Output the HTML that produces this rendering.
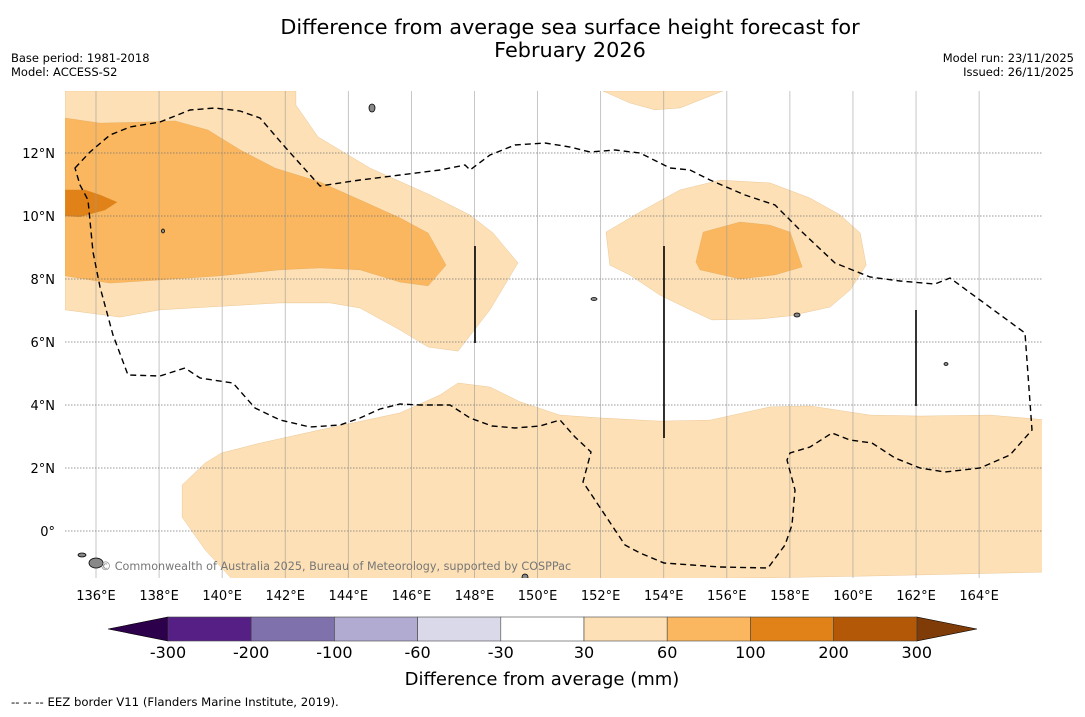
<!DOCTYPE html>
<html><head><meta charset="utf-8"><style>
body{margin:0;background:#fff;width:1085px;height:713px;overflow:hidden;font-family:"DejaVu Sans","Liberation Sans",sans-serif}
</style></head><body>
<svg id="svg" width="1085" height="713" viewBox="0 0 1085 713" xmlns="http://www.w3.org/2000/svg" font-family="DejaVu Sans, Liberation Sans, sans-serif">
<text x="570" y="34" font-size="20.8" text-anchor="middle">Difference from average sea surface height forecast for</text>
<text x="570" y="57" font-size="20.8" text-anchor="middle">February 2026</text>
<text x="11" y="62" font-size="11.5">Base period: 1981-2018</text>
<text x="11" y="76" font-size="11.5">Model: ACCESS-S2</text>
<text x="1074" y="62" font-size="11.5" text-anchor="end">Model run: 23/11/2025</text>
<text x="1074" y="76" font-size="11.5" text-anchor="end">Issued: 26/11/2025</text>
<defs><clipPath id="mapclip"><rect x="65" y="91" width="977" height="487"/></clipPath></defs>
<g id="map" clip-path="url(#mapclip)"></g>
<g id="axes"></g>
<g id="cbar"></g>
<text x="542" y="685" font-size="18" text-anchor="middle">Difference from average (mm)</text>
<text x="11" y="706" font-size="11.7">--  --  -- EEZ border V11 (Flanders Marine Institute, 2019).</text>
</svg>
<script>
const lonTicks=[136,138,140,142,144,146,148,150,152,154,156,158,160,162,164];
const latTicks=[0,2,4,6,8,10,12];
const levelColors=['#551f86','#7f71ab','#b1abd1','#d9d9ea','#ffffff','#fde0b5','#fab75f','#e08217','#b35806'];
const levelLabels=['-300','-200','-100','-60','-30','30','60','100','200','300'];
const lightTopLeft=[[135.02,13.97],[142.34,13.97],[142.34,13.52],[143.04,12.51],[144.69,11.52],[146.59,10.67],[147.86,10.03],[148.59,9.46],[149.38,8.51],[148.49,7.02],[147.48,5.71],[146.53,5.84],[145.64,6.38],[144.37,7.08],[143.42,7.24],[141.83,7.24],[138.03,7.02],[136.76,6.79],[135.02,7.02]];
const mediumTopLeft=[[135.02,13.11],[136.13,12.95],[137.40,12.98],[138.50,13.02],[139.55,12.73],[140.57,12.10],[141.68,11.52],[143.10,11.08],[144.37,10.51],[145.64,9.94],[146.53,9.46],[147.10,8.44],[146.53,7.78],[145.64,7.90],[144.37,8.29],[143.10,8.35],[141.83,8.29],[139.93,8.10],[138.03,7.97],[136.44,7.87],[135.02,8.10]];
const darkTopLeft=[[135.02,10.83],[135.65,10.83],[136.13,10.67],[136.67,10.44],[136.29,10.19],[135.49,9.97],[135.02,10.00]];
const lightTopMid=[[152.07,13.97],[155.88,13.97],[155.15,13.68],[154.52,13.43],[153.72,13.37],[152.92,13.59]];
const lightRight=[[152.17,9.49],[153.25,10.13],[154.52,10.83],[155.79,11.14],[157.37,11.05],[158.64,10.57],[159.60,10.03],[160.23,9.46],[160.42,8.44],[159.91,7.65],[159.28,7.11],[158.01,6.83],[157.06,6.73],[155.53,6.70],[154.84,7.02],[153.88,7.49],[152.92,8.13],[152.29,8.44]];
const mediumRight=[[155.25,9.49],[156.42,9.81],[157.37,9.71],[158.01,9.49],[158.39,8.38],[157.53,8.13],[156.42,8.00],[155.15,8.29],[155.02,8.54]];
const lightBottom=[[138.73,1.46],[139.46,2.16],[139.99,2.48],[141.20,2.79],[143.10,3.21],[145.64,3.75],[146.91,4.32],[147.48,4.70],[148.49,4.57],[149.45,4.10],[150.71,3.68],[151.98,3.59],[153.88,3.49],[155.47,3.52],[157.37,3.94],[158.64,3.97],[160.55,3.68],[162.13,3.65],[164.35,3.68],[166.2,3.52],[166.2,-1.30],[164.98,-1.33],[160.54,-1.43],[157.05,-1.49],[140.38,-1.6],[139.46,-0.60],[138.73,0.44]];
const NS='http://www.w3.org/2000/svg';
const xs=lon=>96+(lon-136)*31.54;
const ys=lat=>531-lat*31.5;
function mk(tag,attrs,parent){const e=document.createElementNS(NS,tag);for(const k in attrs)e.setAttribute(k,attrs[k]);parent.appendChild(e);return e;}
const map=document.getElementById('map'),axes=document.getElementById('axes'),cbar=document.getElementById('cbar');
function poly(pts,fill,name){const p=mk('polygon',{points:pts.map(q=>xs(q[0])+','+ys(q[1])).join(' '),fill:fill,stroke:'#d09040','stroke-width':0.4,'stroke-opacity':0.5},map);

}
poly(lightTopLeft,levelColors[5],'contour-30-60-northwest');
poly(mediumTopLeft,levelColors[6],'contour-60-100-northwest');
poly(darkTopLeft,levelColors[7],'contour-100-200-northwest');
poly(lightTopMid,levelColors[5],'contour-30-60-north');
poly(lightRight,levelColors[5],'contour-30-60-east');
poly(mediumRight,levelColors[6],'contour-60-100-east');
poly(lightBottom,levelColors[5],'contour-30-60-south');
lonTicks.forEach(l=>{const g=mk('line',{x1:xs(l),x2:xs(l),y1:91,y2:578,stroke:'#999','stroke-width':0.8,'stroke-opacity':0.7},map);


const t=mk('text',{x:xs(l),y:600,'font-size':13,'text-anchor':'middle'},axes);t.textContent=l+'°E';

});
latTicks.forEach(l=>{const g=mk('line',{x1:65,x2:1042,y1:ys(l),y2:ys(l),stroke:'#777','stroke-width':0.8,'stroke-dasharray':'1.5,1.5'},map);


const t=mk('text',{x:55,y:ys(l)+5,'font-size':13,'text-anchor':'end'},axes);t.textContent=l===0?'0°':l+'°N';

});
const eez=mk('path',{d:'M75,168 L90,152 L110,135 L130,127 L160,122 L190,110 L215,108 L240,111 L260,118 L285,147 L320,186 L360,180 L400,175 L440,170 L465,165 L470,170 L490,155 L515,145 L545,143 L570,147 L590,152 L615,150 L640,153 L670,168 L690,170 L710,180 L745,195 L775,205 L800,230 L835,263 L870,277 L900,281 L935,284 L950,278 L980,300 L1025,333 L1032,430 L1010,455 L980,468 L945,472 L920,468 L895,458 L872,443 L850,440 L832,433 L810,447 L790,453 L787,460 L795,490 L792,525 L785,545 L768,568 L720,567 L664,563 L640,553 L625,545 L605,515 L583,482 L591,452 L575,437 L560,420 L540,426 L515,428 L492,426 L470,418 L450,405 L420,405 L400,404 L380,409 L360,418 L340,425 L310,427 L280,420 L255,408 L233,383 L200,378 L185,368 L160,376 L128,375 L113,335 L100,287 L93,252 L88,200 L80,185 Z',fill:'none',stroke:'#000','stroke-width':1.4,'stroke-dasharray':'6,4'},map);


[[475,246,343],[664,246,438],[916,310,406]].forEach(v=>{const l=mk('line',{x1:v[0],x2:v[0],y1:v[1],y2:v[2],stroke:'#000','stroke-width':1.6},map);

});
[[372,108,3,4],[96,563,7,5],[82,555,4,2],[525,577,3,3],[797,315,3,2],[594,299,3,1.5],[163,231,1.5,2],[946,364,2,1.5]].forEach(i=>{const e=mk('ellipse',{cx:i[0],cy:i[1],rx:i[2],ry:i[3],fill:'#888',stroke:'#000','stroke-width':0.8},map);

});
const cr=mk('text',{x:100,y:570,'font-size':11.2,fill:'#777'},map);cr.textContent='© Commonwealth of Australia 2025, Bureau of Meteorology, supported by COSPPac';


const cx0=168,cw=83.2,cy0=617,ch=24;
const tl=mk('polygon',{points:`108,629 ${cx0},${cy0} ${cx0},${cy0+ch}`,fill:'#2d004b',stroke:'#000','stroke-width':0.6},cbar);


const tr=mk('polygon',{points:`977,629 ${cx0+9*cw},${cy0} ${cx0+9*cw},${cy0+ch}`,fill:'#7f3b08',stroke:'#000','stroke-width':0.6},cbar);


levelColors.forEach((c,i)=>{const r=mk('rect',{x:cx0+i*cw,y:cy0,width:cw,height:ch,fill:c,stroke:'#444','stroke-width':0.6},cbar);

});
levelLabels.forEach((s,i)=>{const t=mk('text',{x:cx0+i*cw,y:658,'font-size':16,'text-anchor':'middle'},cbar);t.textContent=s;

});
</script>
</body></html>
